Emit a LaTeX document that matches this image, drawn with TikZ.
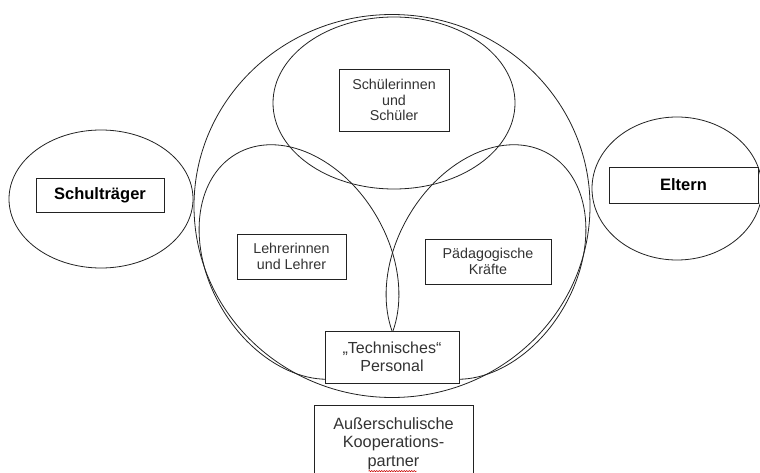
\documentclass[tikz,border=0pt]{standalone}
\usepackage{fontspec}
\setmainfont{Liberation Sans}
\usetikzlibrary{shapes.geometric,decorations.pathmorphing}
\definecolor{ink}{HTML}{222222}
\definecolor{txt}{HTML}{333333}
\tikzset{
  ring/.style={draw=ink, line width=0.8pt, ellipse, inner sep=0pt},
  labelbox/.style={draw=ink, line width=0.8pt, fill=white, rectangle, inner sep=0pt, align=center, text=txt,
    font=\fontsize{14.3}{15.5}\selectfont},
  boldbox/.style={labelbox, text=black, font=\fontsize{16.5}{18}\selectfont\bfseries},
  plaintext/.style={inner sep=0pt, align=center, text=txt},
}
\begin{document}
\begin{tikzpicture}[x=1pt,y=-1pt]
\useasboundingbox (0,0) rectangle (760,473);
% outer and side ellipses
\node[ring, minimum width=396pt, minimum height=383pt] (school) at (392,206) {};
\node[ring, minimum width=184pt, minimum height=138pt] (traeger) at (101,199) {};
\node[ring, minimum width=170pt, minimum height=143pt] (eltern) at (677,188.5) {};
% inner ellipses
\node[ring, minimum width=242pt, minimum height=172pt] (schueler) at (394,103) {};
\node[ring, minimum width=180pt, minimum height=250pt, rotate=30] (lehrer) at (299,262) {};
\node[ring, minimum width=180pt, minimum height=250pt, rotate=-30] (paed) at (486,262) {};
% boxes
\node[boldbox, minimum width=128pt, minimum height=34pt] (btraeger) at (100,195) {Schulträger};
\node[boldbox, minimum width=149pt, minimum height=36pt] (beltern) at (683.5,185) {Eltern};
\node[labelbox, minimum width=110pt, minimum height=62pt] (bschueler) at (394,100) {Schülerinnen\\und\\Schüler};
\node[labelbox, minimum width=109pt, minimum height=45pt] (blehrer) at (291.5,256.5) {Lehrerinnen\\und Lehrer};
\node[labelbox, minimum width=126pt, minimum height=45pt] (bpaed) at (488,261.5) {Pädagogische\\Kräfte};
\node[labelbox, minimum width=134pt, minimum height=52pt, font=\fontsize{16}{17.5}\selectfont] (btech) at (392,357) {„Technisches“\\Personal};
\node[labelbox, anchor=north, minimum width=159pt, minimum height=90pt] (baus) at (393.5,405) {};
\node[plaintext, anchor=north, font=\fontsize{16.3}{18.5}\selectfont] (taus) at (393.5,417) {Außerschulische\\Kooperations-\\partner};
% spell-check underline
\draw[red!80!black, line width=0.5pt, decorate, decoration={snake, amplitude=0.7pt, segment length=2.5pt}]
  ([xshift=-25pt, yshift=-1.5pt]taus.south) -- ([xshift=23pt, yshift=-1.5pt]taus.south);
\end{tikzpicture}
\end{document}
